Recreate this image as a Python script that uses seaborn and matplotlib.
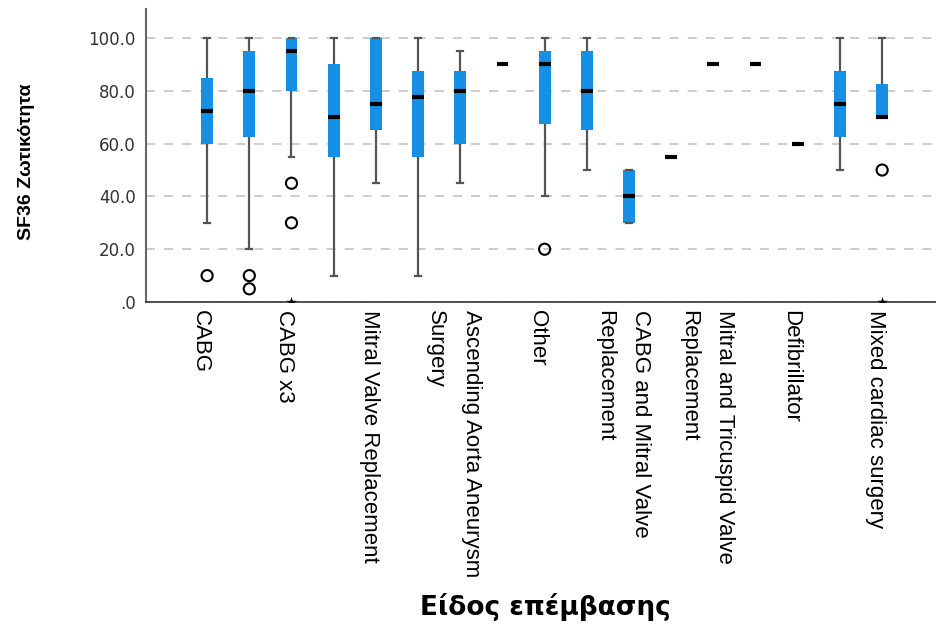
import numpy as np
import pandas as pd
import matplotlib
matplotlib.use("Agg")
import matplotlib.pyplot as plt
import seaborn as sns
from matplotlib.ticker import FuncFormatter

# surgery types in plot order; the original only prints every second name,
# the unprinted ones are kept as placeholders
categories = ["CABG", "type 2", "CABG x3", "type 4", "Mitral Valve Replacement", "type 6",
              "Ascending Aorta Aneurysm\nSurgery", "type 8", "Other", "type 10",
              "CABG and Mitral Valve\nReplacement", "type 12",
              "Mitral and Tricuspid Valve\nReplacement", "type 14", "Defibrillator",
              "type 16", "Mixed cardiac surgery"]

# SF36 vitality scores per surgery type
cabg = [10, 30, 60, 65, 72.5, 80, 85, 90, 100]
type2 = [5, 10, 20, 62.5, 70, 75, 80, 85, 90, 95, 95, 100, 100]
cabg_x3 = [0, 30, 45, 55, 80, 85, 90, 90, 95, 95, 100, 100, 100, 100, 100, 100, 100]
type4 = [10, 55, 70, 90, 100]
mitral = [45, 65, 75, 100, 100]
type6 = [10, 55, 77.5, 87.5, 100]
aorta = [45, 60, 80, 87.5, 95]
type8 = [90]
other = [20, 40, 67.5, 80, 90, 92.5, 95, 100, 100]
type10 = [50, 65, 80, 95, 100]
cabg_mitral = [30, 30, 40, 50, 50]
type12 = [55]
mitral_tricuspid = [90]
type14 = [90]
defib = [60]
type16 = [50, 62.5, 75, 87.5, 100]
mixed = [0, 50, 70, 70, 70, 75, 82.5, 90, 100]

groups = [cabg, type2, cabg_x3, type4, mitral, type6, aorta, type8, other, type10,
          cabg_mitral, type12, mitral_tricuspid, type14, defib, type16, mixed]

df = pd.DataFrame({"surgery": np.repeat(categories, [len(g) for g in groups]),
                   "score": np.concatenate(groups)})

# SPSS style: circles for outliers, stars for extremes (> 3 IQR)
rows_out, rows_ext = [], []
for name, g in zip(categories, groups):
    q1, q3 = np.percentile(g, [25, 75])
    iqr = q3 - q1
    for v in g:
        if v < q1 - 3 * iqr or v > q3 + 3 * iqr:
            rows_ext.append((name, v))
        elif v < q1 - 1.5 * iqr or v > q3 + 1.5 * iqr:
            rows_out.append((name, v))
outliers = pd.DataFrame(rows_out, columns=["surgery", "score"])
extremes = pd.DataFrame(rows_ext, columns=["surgery", "score"])

blue = "#1590e5"

fig = plt.figure(figsize=(9.37, 6.27), dpi=100)
ax = fig.add_axes([0.1553, 0.5183, 0.8447, 0.4673])

sns.boxplot(data=df, x="surgery", y="score", order=categories, width=0.28,
            color=blue, showfliers=False, ax=ax,
            boxprops=dict(facecolor=blue, edgecolor=blue, linewidth=0),
            medianprops=dict(color="black", linewidth=3),
            whiskerprops=dict(color="#555555", linewidth=1.6),
            capprops=dict(color="#555555", linewidth=1.6))
sns.stripplot(data=outliers, x="surgery", y="score", order=categories, jitter=False,
              marker="o", size=8, facecolor="none", edgecolor="black", linewidth=1.5,
              ax=ax)
sns.stripplot(data=extremes, x="surgery", y="score", order=categories, jitter=False,
              marker="*", size=8, color="black", ax=ax)

ax.set_ylim(0, 111)
ax.set_xlim(-1.46, 17.3)
ax.set_yticks([0, 20, 40, 60, 80, 100])
ax.yaxis.set_major_formatter(FuncFormatter(lambda v, p: f"{v:.1f}".lstrip("0")))
ax.yaxis.grid(True, linestyle=(0, (5, 5)), color="#c8c8c8", linewidth=1.3)
ax.set_axisbelow(True)

# invisible ticks, nudged a little left like the labels in the original
ax.set_xticks(np.arange(len(categories)) - 0.16)
ax.set_xticklabels([c if i % 2 == 0 else "" for i, c in enumerate(categories)],
                   rotation=-90, ha="center", va="top", multialignment="left",
                   fontsize=16, family="Liberation Sans", linespacing=1.95)
for lab in ax.get_yticklabels():
    lab.set_fontsize(12)
    lab.set_family("DejaVu Sans")
    lab.set_color("#333333")
ax.tick_params(axis="x", length=0, pad=6)
ax.tick_params(axis="y", length=0, pad=7)

for s in ["top", "right"]:
    ax.spines[s].set_visible(False)
ax.spines["left"].set_color("#666666")
ax.spines["left"].set_linewidth(1.5)
ax.spines["bottom"].set_color("#333333")
ax.spines["bottom"].set_linewidth(1.2)

ax.set_xlabel("")
ax.set_ylabel("")
fig.text(27 / 937, 1 - 162 / 627, "SF36 Ζωτικότητα", rotation=90, ha="center", va="center",
         fontsize=14, fontweight="bold", family="Liberation Sans")
fig.text(545 / 937, 1 - 607 / 627, "Είδος επέμβασης", ha="center", va="center",
         fontsize=19, fontweight="bold", family="DejaVu Sans")

fig.savefig("out.png", dpi=100)
